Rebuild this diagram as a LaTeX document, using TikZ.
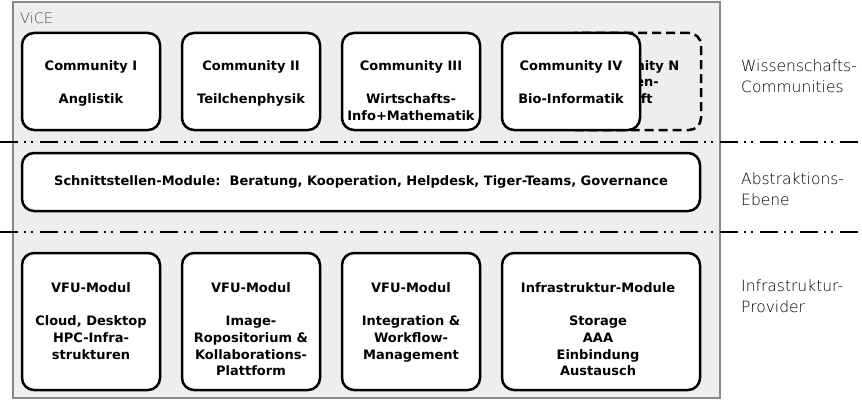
\documentclass[tikz,border=0pt]{standalone}
\usepackage{fontspec}
\setmainfont{DejaVu Sans}
\newfontfamily\lightfont{DejaVu Sans ExtraLight}
\usetikzlibrary{positioning}
\definecolor{panel}{HTML}{EEEEEE}
\definecolor{rim}{HTML}{888888}

\begin{document}
\begin{tikzpicture}[
      x=1pt,y=-1pt,
      every node/.style={font=\bfseries\fontsize{13}{16.75}\selectfont},
      modbox/.style={draw=black,line width=2.5pt,fill=white,rounded corners=12pt,minimum width=138pt,minimum height=97pt,inner sep=0pt},
      ghost/.style={modbox,fill=none,dash pattern=on 9pt off 5pt},
      txt/.style={align=center,inner sep=0pt,anchor=north},
      layer/.style={font=\lightfont\fontsize{15.5}{21}\selectfont,align=left,anchor=north west,inner sep=0pt},
      sep/.style={line width=1.4pt,dash pattern=on 18pt off 6pt on 2pt off 5pt on 2pt off 7pt}
    ]
    \useasboundingbox (0,0) rectangle (862,404);
    % ViCE panel
    \draw[draw=rim,fill=panel,line width=1.2pt] (13,2) rectangle (720,398);
    \node[font=\lightfont\fontsize{14.5}{16}\selectfont,text=black!70,anchor=west,inner sep=0pt] (vice) at (20,18) {ViCE};
    % layer separators
    \draw[sep] (0,142) -- (862,142);
    \draw[sep] (0,232) -- (862,232);
    % communities (N sits behind IV)
    \node[ghost] (cn) at (632,81.5) {};
    \node[txt] (cnt) at (630,60) {Community N\\Wissen-\\schaft};
    \node[modbox] (c1) at (91,81.5) {};
    \node[modbox] (c2) at (251,81.5) {};
    \node[modbox] (c3) at (411,81.5) {};
    \node[modbox] (c4) at (571,81.5) {};
    \node[txt] (c1t) at (91,60) {Community I\\[16.75pt]Anglistik};
    \node[txt] (c2t) at (251,60) {Community II\\[16.75pt]Teilchenphysik};
    \node[txt] (c3t) at (411,60) {Community III\\[16.75pt]Wirtschafts-\\Info+Mathematik};
    \node[txt] (c4t) at (571,60) {Community IV\\[16.75pt]Bio-Informatik};
    % abstraction layer
    \node[modbox,minimum width=678pt,minimum height=58pt] (iface) at (361,182) {Schnittstellen-Module:\ \ Beratung, Kooperation, Helpdesk, Tiger-Teams, Governance};
    % infrastructure providers
    \node[modbox,minimum height=137pt] (v1) at (91,321.5) {};
    \node[modbox,minimum height=137pt] (v2) at (251,321.5) {};
    \node[modbox,minimum height=137pt] (v3) at (411,321.5) {};
    \node[modbox,minimum width=198pt,minimum height=137pt] (infra) at (601,321.5) {};
    \node[txt] (v1t) at (91,282) {VFU-Modul\\[16.75pt]Cloud, Desktop\\HPC-Infra-\\strukturen};
    \node[txt] (v2t) at (251,282) {VFU-Modul\\[16.75pt]Image-\\Ropositorium \&\\Kollaborations-\\Plattform};
    \node[txt] (v3t) at (411,282) {VFU-Modul\\[16.75pt]Integration \&\\Workflow-\\Management};
    \node[txt] (infrat) at (598,282) {Infrastruktur-Module\\[16.75pt]Storage\\AAA\\Einbindung\\Austausch};
    % layer captions
    \node[layer] (l1) at (741,60) {Wissenschafts-\\Communities};
    \node[layer] (l2) at (741,173) {Abstraktions-\\Ebene};
    \node[layer] (l3) at (741,280) {Infrastruktur-\\Provider};
  \end{tikzpicture}
\end{document}
